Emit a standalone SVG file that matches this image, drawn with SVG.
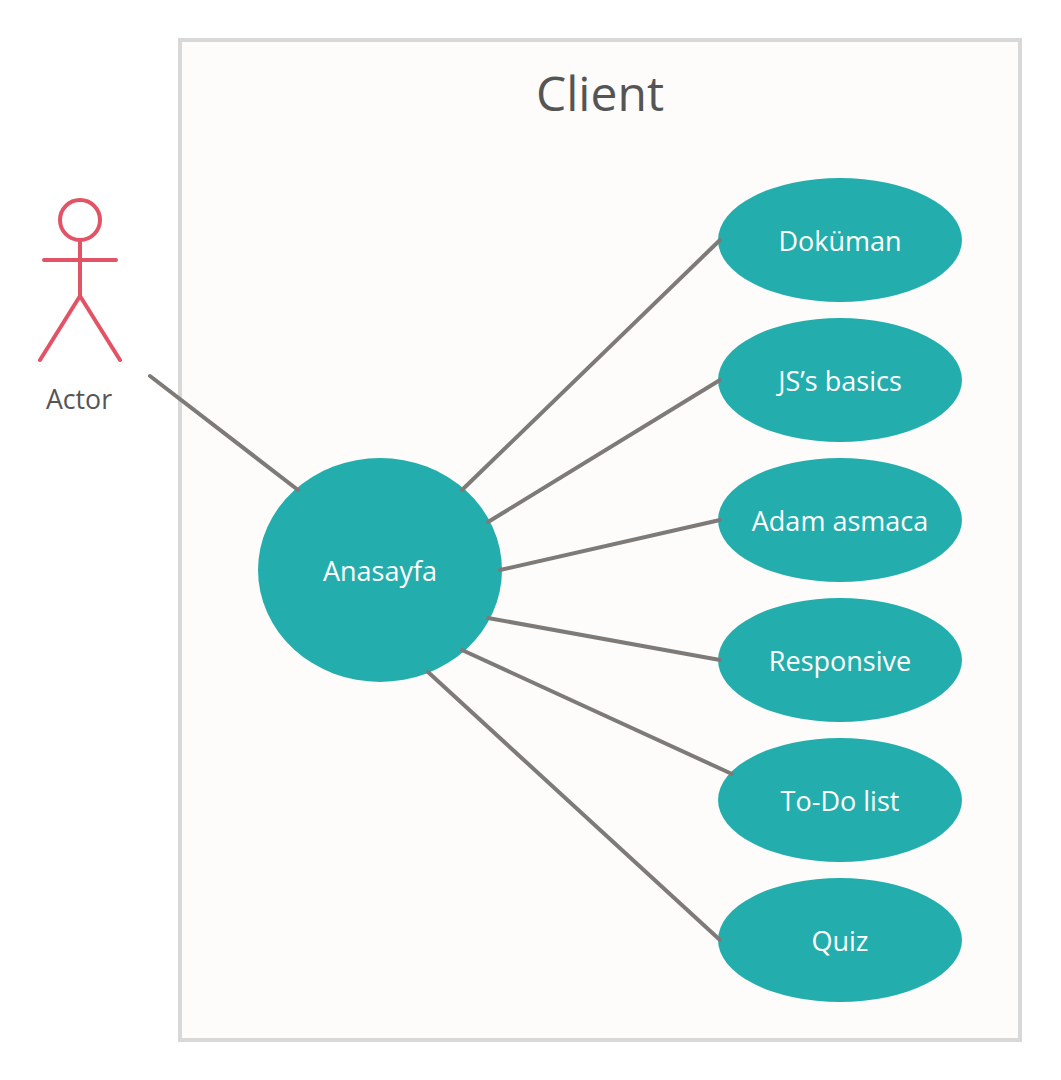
<svg xmlns="http://www.w3.org/2000/svg" width="1061" height="1080" viewBox="0 0 1061 1080">
<style>
text{font-family:"Open Sans","Noto Sans",sans-serif;text-anchor:middle}
.n{fill:#23aead}
.l{fill:#fff;font-size:27px}
.c line{stroke:#7d7a78;stroke-width:4;stroke-linecap:round}
.a{fill:none;stroke:#e25365;stroke-width:4;stroke-linecap:round;stroke-linejoin:round}
</style>
<rect width="1061" height="1080" fill="#fff"/>
<g id="boundary"><rect x="180" y="40" width="840" height="1000" fill="#fdfcfb" stroke="#d8d8d8" stroke-width="4"/><text x="600" y="111" font-size="48" fill="#555">Client</text></g>
<g id="actor"><circle class="a" cx="80" cy="220" r="20"/><path class="a" d="M80 240V296M44 260H116M40 360L80 296L120 360"/><text x="79" y="409" font-size="26.700" fill="#555">Actor</text></g>
<g id="anasayfa"><ellipse class="n" cx="380" cy="570" rx="122" ry="112"/><text class="l" x="380" y="581">Anasayfa</text></g>
<g id="dokuman"><ellipse class="n" cx="840" cy="240" rx="122" ry="62"/><text class="l" x="840" y="251">Doküman</text></g>
<g id="basics"><ellipse class="n" cx="840" cy="380" rx="122" ry="62"/><text class="l" x="840" y="391">JS’s basics</text></g>
<g id="adam"><ellipse class="n" cx="840" cy="520" rx="122" ry="62"/><text class="l" x="840" y="531">Adam asmaca</text></g>
<g id="responsive"><ellipse class="n" cx="840" cy="660" rx="122" ry="62"/><text class="l" x="840" y="671">Responsive</text></g>
<g id="todo"><ellipse class="n" cx="840" cy="800" rx="122" ry="62"/><text class="l" x="840" y="811">To-Do list</text></g>
<g id="quiz"><ellipse class="n" cx="840" cy="940" rx="122" ry="62"/><text class="l" x="840" y="951">Quiz</text></g>
<g id="connectors" class="c">
<line x1="150" y1="376" x2="298" y2="490"/>
<line x1="462" y1="490" x2="720" y2="240"/>
<line x1="488" y1="522" x2="720" y2="380"/>
<line x1="500" y1="570" x2="720" y2="520"/>
<line x1="488" y1="618" x2="720" y2="660"/>
<line x1="462" y1="650" x2="732" y2="774"/>
<line x1="428" y1="672" x2="720" y2="940"/>
</g>
</svg>
